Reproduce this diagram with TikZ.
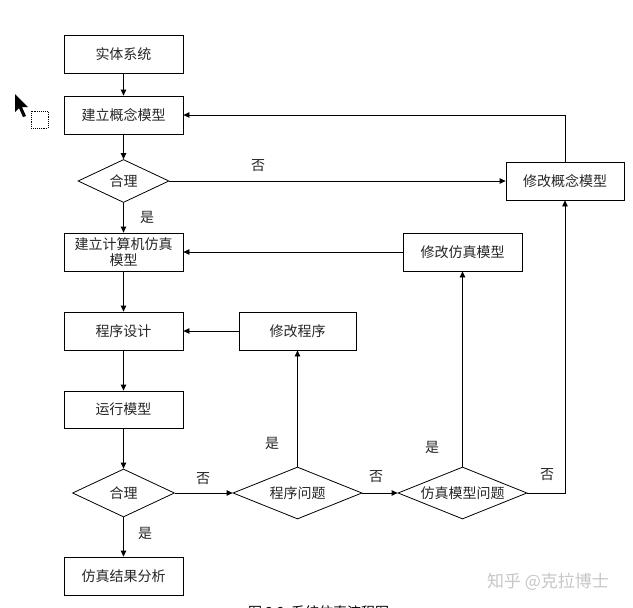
\documentclass[tikz,border=0pt]{standalone}
\usepackage{fontspec}
\setmainfont{Noto Sans CJK SC}
\usetikzlibrary{shapes.geometric,arrows.meta}
\begin{document}
\begin{tikzpicture}[x=1pt,y=-1pt,
  box/.style={draw,line width=0.8pt,rectangle,minimum width=119pt,minimum height=38pt,inner sep=1pt,font=\fontsize{14}{15}\selectfont,align=center,text=black!85},
  dia/.style={draw,line width=0.8pt,diamond,inner sep=0pt,font=\fontsize{14}{15}\selectfont,text=black!85},
  arr/.style={line width=0.8pt,-{Triangle[length=6pt,width=5.5pt]}},
  lab/.style={font=\fontsize{14}{15}\selectfont,text=black!85,inner sep=0pt}]
\useasboundingbox (0,0) rectangle (633,608);
\clip (0,0) rectangle (633,608);
\fill[white] (0,0) rectangle (633,608);
% nodes
\node[box] (sys) at (123.5,54) {实体系统};
\node[box] (concept) at (123.5,115) {建立概念模型};
\node[dia,aspect=2.1,minimum width=91pt,minimum height=43pt] (d1) at (123.5,181) {合理};
\node[box,font=\fontsize{14}{16}\selectfont] (sim) at (123.5,252) {建立计算机仿真\\模型};
\node[box] (prog) at (123.5,331) {程序设计};
\node[box,minimum height=37pt] (run) at (123.5,409.5) {运行模型};
\node[dia,aspect=2.1,minimum width=102pt,minimum height=48pt] (d2) at (123.5,493) {合理};
\node[box] (result) at (123.5,576) {仿真结果分析};
\node[box,minimum width=117pt] (modprog) at (297.5,331) {修改程序};
\node[dia,aspect=2.48,minimum width=129pt,minimum height=52pt] (d3) at (297.5,493) {程序问题};
\node[dia,aspect=2.48,minimum width=129pt,minimum height=52pt] (d4) at (462.5,493) {仿真模型问题};
\node[box] (modsim) at (462.5,252) {修改仿真模型};
\node[box,minimum width=118pt] (modconcept) at (565,181) {修改概念模型};
% connectors
\draw[arr] (sys) -- (concept);
\draw[arr] (concept) -- (d1);
\draw[arr] (d1) -- (sim);
\draw[arr] (d1.east) -- (modconcept.west);
\draw[arr] (modconcept.north) |- (concept.east);
\draw[arr] (modsim.west) -- (sim.east);
\draw[arr] (sim) -- (prog);
\draw[arr] (modprog.west) -- (prog.east);
\draw[arr] (prog) -- (run);
\draw[arr] (run) -- (d2);
\draw[arr] (d2) -- (result);
\draw[arr] (d2.east) -- (d3.west);
\draw[arr] (d3.north) -- (modprog.south);
\draw[arr] (d3.east) -- (d4.west);
\draw[arr] (d4.north) -- (modsim.south);
\draw[arr] (d4.east) -| (modconcept.south);
% labels
\node[lab] (l1) at (258,166) {否};
\node[lab] (l2) at (147,217) {是};
\node[lab] (l3) at (203,479) {否};
\node[lab] (l4) at (145,533) {是};
\node[lab] (l5) at (272,443) {是};
\node[lab] (l6) at (376,477) {否};
\node[lab] (l7) at (432,447) {是};
\node[lab] (l8) at (547,475) {否};
% caption (cut off at the lower edge, as in the reference)
\node[anchor=base west,inner sep=0pt,font=\fontsize{14}{16}\selectfont] (cap) at (248,617) {图 2.2\ \ 系统仿真流程图};
% watermark
\node[inner sep=0pt,font=\fontsize{17}{18}\selectfont,text=black!22] (wm) at (548,582) {知乎 @克拉博士};
% cursor
\fill[black] (15,94) -- (15,112) -- (19,108) -- (23,117) -- (26,116) -- (22,107) -- (28,107) -- cycle;
\draw[densely dotted,line width=0.9pt] (31,111) rectangle (48,128);
\end{tikzpicture}
\end{document}
